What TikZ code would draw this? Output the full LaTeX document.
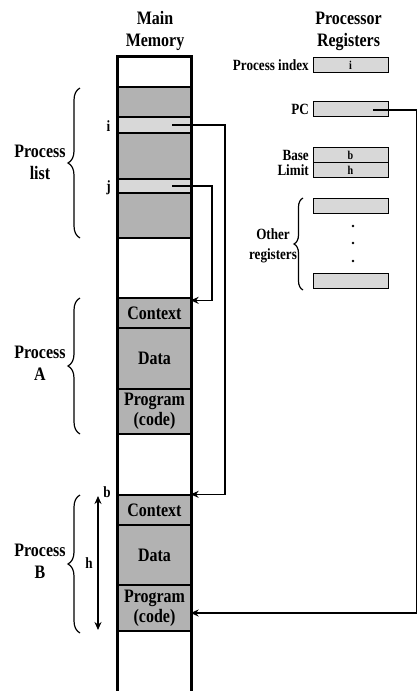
\documentclass[tikz,border=0pt]{standalone}
\usepackage{fontspec}
\setmainfont{Liberation Serif}[FakeStretch=0.84]
\usetikzlibrary{arrows.meta,decorations.pathreplacing}
\definecolor{darkcell}{RGB}{178,178,178}
\definecolor{lightcell}{RGB}{216,216,216}
\begin{document}
\begin{tikzpicture}[x=1pt,y=-1pt,
  big/.style={font=\bfseries\fontsize{19}{22}\selectfont},
  small/.style={font=\bfseries\fontsize{15.6}{20}\selectfont},
  tiny/.style={font=\bfseries\fontsize{12}{14}\selectfont},
  txt/.style={inner sep=0pt, align=center},
  cell/.style={draw, line width=1.3pt, minimum width=73pt, inner sep=0pt, align=center,
    font=\bfseries\fontsize{19}{20}\selectfont},
  dark/.style={cell, fill=darkcell},
  light/.style={cell, fill=lightcell},
  blank/.style={cell, fill=white},
  reg/.style={draw, line width=1pt, fill=lightcell, minimum width=75pt, minimum height=15pt,
    inner sep=0pt, tiny},
  conn/.style={line width=1.5pt, -{Stealth[length=8pt,width=7pt]}, shorten >=-1pt},
  brc/.style={decorate, line width=1.2pt}
]
\useasboundingbox[fill=white] (0,0) rectangle (418,691);

% headers
\node[txt, big] (hmem) at (155,31) {Main\\Memory};
\node[txt, big] (hreg) at (348.5,31) {Processor\\Registers};

% memory cells
\node[blank, minimum height=30pt] (m0) at (154.5,72) {};
\node[dark, minimum height=30pt] (m1) at (154.5,102) {};
\node[light, minimum height=16pt] (ci) at (154.5,125) {};
\node[dark, minimum height=46pt] (m2) at (154.5,156) {};
\node[light, minimum height=14pt] (cj) at (154.5,186) {};
\node[dark, minimum height=45pt] (m3) at (154.5,215.5) {};
\node[blank, minimum height=60pt] (g1) at (154.5,268) {};
\node[dark, minimum height=30pt] (ctxA) at (154.5,313) {Context};
\node[dark, minimum height=61pt] (dataA) at (154.5,358.5) {Data};
\node[dark, minimum height=45pt] (progA) at (154.5,411.5) {Program\\(code)};
\node[blank, minimum height=61pt] (g2) at (154.5,464.5) {};
\node[dark, minimum height=30pt] (ctxB) at (154.5,510) {Context};
\node[dark, minimum height=60pt] (dataB) at (154.5,555) {Data};
\node[dark, minimum height=46pt] (progB) at (154.5,608) {Program\\(code)};
\node[blank, minimum height=70pt] (m4) at (154.5,666) {};
\draw[line width=2pt] (m4.south west) -- (m0.north west) -- (m0.north east) -- (m4.south east);

% memory labels
\node[txt, small] (li) at (108.5,126) {i};
\node[txt, small] (lj) at (108.5,188) {j};

% left braces and labels
\draw[brc, decoration={brace, amplitude=12pt}] (80,238) -- (80,88);
\draw[brc, decoration={brace, amplitude=12pt}] (80,434) -- (80,298);
\draw[brc, decoration={brace, amplitude=12pt}] (80,633) -- (80,495);
\node[txt, big] (plist) at (40,162) {Process\\list};
\node[txt, big] (pA) at (40,363) {Process\\A};
\node[txt, big] (pB) at (40,561) {Process\\B};

% base/limit dimension
\coordinate (bt) at (98,496);
\coordinate (bb) at (98,630);
\draw[line width=1.3pt, {Stealth[length=8pt,width=7pt]}-{Stealth[length=8pt,width=7pt]}] (bt) -- (bb);
\node[txt, small] (lb) at (107,492) {b};
\node[txt, small] (lh) at (89,563) {h};

% registers
\node[reg] (rpi) at (350.5,65) {i};
\node[reg] (rpc) at (350.5,109) {};
\node[reg] (rbase) at (350.5,155) {b};
\node[reg] (rlim) at (350.5,170) {h};
\node[reg] (ro1) at (350.5,205.5) {};
\node[reg] (ro2) at (350.5,281) {};
\fill (353,226) circle (1.3);
\fill (353,243) circle (1.3);
\fill (353,261) circle (1.3);

\node[txt, small, anchor=east] (lpi) at (309,65) {Process index};
\node[txt, small, anchor=east] (lpc) at (309,109) {PC};
\node[txt, small, anchor=east] (lbase) at (309,155) {Base};
\node[txt, small, anchor=east] (llim) at (309,170) {Limit};
\draw[brc, decoration={brace, amplitude=9pt}] (303,290) -- (303,198);
\node[txt, small] (loth) at (273,246) {Other\\registers};

% connectors
\coordinate (pi) at (172,125);
\coordinate (pj) at (172,186);
\coordinate (ppc) at (373,110);
\draw[conn] (pi) -- ++(53,0) |- (ctxB.north east);
\draw[conn] (pj) -- ++(40,0) |- ([yshift=-3pt]ctxA.north east);
\draw[conn] (ppc) -- ++(43.5,0) |- ([yshift=-5pt]progB.east);
\end{tikzpicture}
\end{document}
